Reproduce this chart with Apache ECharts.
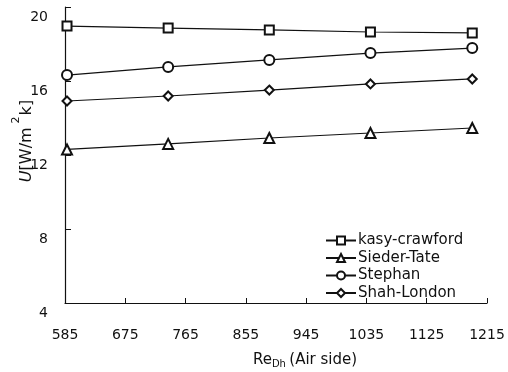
<!DOCTYPE html>
<html>
<head>
<meta charset="utf-8">
<script src="https://cdn.jsdelivr.net/npm/echarts@6/dist/echarts.min.js"></script>
<style>
  html, body { margin: 0; padding: 0; background: #fff; }
  #chart { width: 508px; height: 372px; }
</style>
</head>
<body>
<div id="chart"></div>
<script>
// Re_Dh values (air side) where the curves were sampled
const reValues = [588, 739, 890, 1041, 1193]

const seriesNames = ['kasy-crawford', 'Sieder-Tate', 'Stephan', 'Shah-London']
const kasyCrawford = [18.97, 18.86, 18.76, 18.65, 18.6]
const siederTate = [12.3, 12.6, 12.92, 13.19, 13.46]
const stephan = [16.32, 16.76, 17.14, 17.51, 17.78]
const shahLondon = [14.92, 15.19, 15.51, 15.84, 16.11]

const xTicks = [585, 675, 765, 855, 945, 1035, 1125, 1215]
const yTicks = [4, 8, 12, 16, 20]

const font = 'DejaVu Sans, Liberation Sans, sans-serif'
const black = '#111'

const toPairs = vals => reValues.map((x, i) => [x, vals[i]])

const makeSeries = (name, vals, symbol, size) => ({
  name,
  type: 'line',
  data: toPairs(vals),
  symbol,
  symbolSize: size,
  showAllSymbol: true,
  lineStyle: { color: black, width: 1.2 },
  itemStyle: { color: black, borderColor: black, borderWidth: 1.2 },
  emphasis: { disabled: true }
})

const chart = echarts.init(document.getElementById('chart'))

chart.setOption({
  animation: false,
  backgroundColor: '#fff',
  grid: { left: 65, right: 21, top: 7, bottom: 69, containLabel: false, outerBoundsMode: 'none' },
  legend: {
    orient: 'vertical',
    left: 320,
    top: 228,
    itemWidth: 30,
    itemHeight: 10,
    itemGap: 2.5,
    data: seriesNames,
    textStyle: { fontFamily: font, fontSize: 15, color: black, lineHeight: 14, padding: [0, 0, 0, -3] }
  },
  xAxis: {
    type: 'value',
    min: 585,
    max: 1215,
    interval: 90,
    name: '{r|Re}{sub|Dh} {r|(Air side)}',
    nameLocation: 'middle',
    nameGap: 48,
    nameMoveOverlap: false,
    nameTextStyle: {
      padding: [0, 0, 0, 58],
      rich: {
        r: { fontFamily: font, fontSize: 15, color: black, lineHeight: 18 },
        sub: { fontFamily: font, fontSize: 10, color: black, verticalAlign: 'bottom', lineHeight: 14 }
      }
    },
    axisLine: { show: true, lineStyle: { color: black, width: 1.2 } },
    axisTick: { show: true, inside: true, length: 5, lineStyle: { color: black } },
    axisLabel: {
      margin: 25,
      fontFamily: font,
      fontSize: 14,
      color: black,
      formatter: v => (xTicks.includes(v) ? String(v) : '')
    },
    splitLine: { show: false }
  },
  yAxis: {
    type: 'value',
    min: 4,
    max: 20,
    interval: 4,
    name: '{i|U}{r|[W/m}{sup|2}{r|k]}',
    nameLocation: 'middle',
    nameGap: 30,
    nameMoveOverlap: false,
    nameRotate: 90,
    nameTextStyle: {
      padding: [0, 0, 0, 28],
      rich: {
        i: { fontFamily: font, fontSize: 16, fontStyle: 'italic', color: black, lineHeight: 24, verticalAlign: 'bottom' },
        r: { fontFamily: font, fontSize: 16, color: black, lineHeight: 24, verticalAlign: 'bottom' },
        sup: { fontFamily: font, fontSize: 11, color: black, verticalAlign: 'top', lineHeight: 12, padding: [0, 1, 0, 4] }
      }
    },
    axisLine: { show: true, lineStyle: { color: black, width: 1.2 } },
    axisTick: { show: true, inside: true, length: 6, lineStyle: { color: black } },
    axisLabel: {
      margin: 17,
      fontFamily: font,
      fontSize: 14,
      color: black,
      verticalAlign: 'top',
      padding: [3, 0, 0, 0],
      formatter: v => (yTicks.includes(v) ? String(v) : '')
    },
    splitLine: { show: false }
  },
  series: [
    makeSeries(seriesNames[0], kasyCrawford, 'emptyRect', 9),
    makeSeries(seriesNames[1], siederTate, 'emptyTriangle', 10),
    makeSeries(seriesNames[2], stephan, 'emptyCircle', 10),
    makeSeries(seriesNames[3], shahLondon, 'emptyDiamond', 9)
  ]
})
</script>
</body>
</html>
